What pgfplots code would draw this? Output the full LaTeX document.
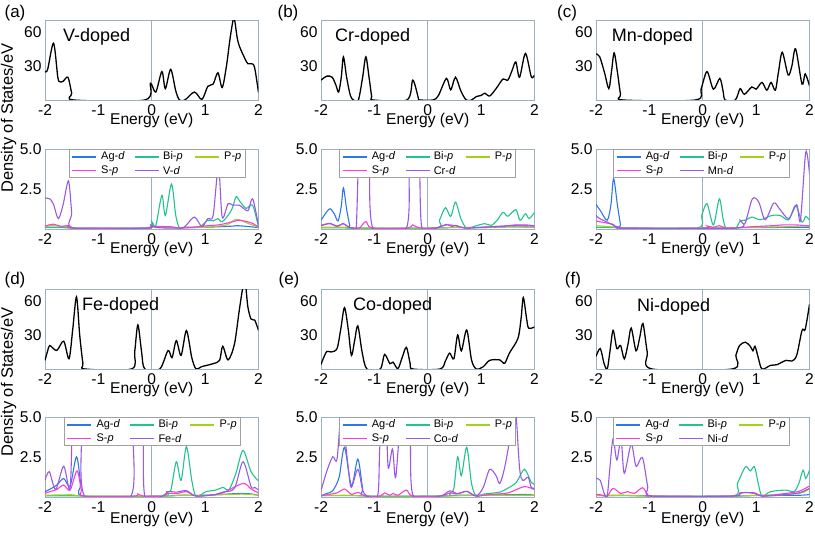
\documentclass[border=0pt]{standalone}
\usepackage{pgfplots}
\pgfplotsset{compat=1.18}
\usepackage{fontspec}
\setmainfont{Liberation Sans}
\definecolor{framec}{RGB}{155,178,190}
\definecolor{legc}{RGB}{160,160,160}
\definecolor{agc}{RGB}{45,120,230}
\definecolor{bic}{RGB}{35,195,140}
\definecolor{pc}{RGB}{160,210,30}
\definecolor{sc}{RGB}{250,60,220}
\definecolor{dc}{RGB}{150,90,230}
\newcommand\tickfont{\fontsize{15.6}{18}\selectfont}
\newcommand\legfont{\fontsize{11}{12}\selectfont}
\newcommand\titlefont{\fontsize{18}{20}\selectfont}
\newcommand\panelfont{\fontsize{17}{19}\selectfont}
\pgfplotsset{
  base/.style={scale only axis, width=213.5pt, height=79.5pt, anchor=south west,
    xmin=-2, xmax=2, xtick={-2,-1,0,1,2}, xticklabels={-2,-1,0,1,2},
    axis line style={draw=framec, line width=0.8pt},
    tick style={draw=none},
    ticklabel style={font=\tickfont},
    xticklabel style={yshift=-1.5pt},
  },
  topax/.style={base, ymin=0, ymax=70, ytick={30,60}, yticklabels={30,60}},
  botax/.style={base, ymin=-0.06, ymax=5, ytick={2.5,5}, yticklabels={2.5,5.0}},
  tot/.style={black, line width=1.3pt, smooth, tension=0.5},
  ag/.style={agc, line width=1.1pt, smooth, tension=0.5},
  bi/.style={bic, line width=1.1pt, smooth, tension=0.5},
  pp/.style={pc, line width=1.1pt, smooth, tension=0.5},
  sp/.style={sc, line width=1.1pt, smooth, tension=0.5},
  dd/.style={dc, line width=1.1pt, smooth, tension=0.5},
  zl/.style={framec, line width=0.8pt},
}
% legend box drawn on top of a lower panel: #1 = left x, #2 = top y, #3 = dopant
\newcommand\mylegend[3]{%
  \begin{scope}[shift={(#1,#2)}]
  \draw[legc, fill=white, line width=0.6pt] (0,0) rectangle (176,-28);
  \draw[agc, line width=1.1pt] (3,-7.5) -- (27,-7.5);
  \node[anchor=west, inner sep=0pt, font=\legfont] at (32,-7.5) {Ag-\textit{d}};
  \draw[bic, line width=1.1pt] (66,-7.5) -- (90,-7.5);
  \node[anchor=west, inner sep=0pt, font=\legfont] at (94,-7.5) {Bi-\textit{p}};
  \draw[pc, line width=1.1pt] (126,-7.5) -- (150,-7.5);
  \node[anchor=west, inner sep=0pt, font=\legfont] at (155,-7.5) {P-\textit{p}};
  \draw[sc, line width=1.1pt] (3,-21) -- (27,-21);
  \node[anchor=west, inner sep=0pt, font=\legfont] at (32,-21) {S-\textit{p}};
  \draw[dc, line width=1.1pt] (66,-21) -- (90,-21);
  \node[anchor=west, inner sep=0pt, font=\legfont] at (94,-21) {#3-\textit{d}};
  \end{scope}}
\begin{document}
\begin{tikzpicture}[x=1pt,y=1pt]
%================ (a) =================
\begin{axis}[topax, at={(45pt,436pt)}]
\addplot[zl] coordinates {(0,-10)(0,100)};
\addplot[tot] coordinates {(-2,25)(-1.95,27)(-1.84,50)(-1.76,20)(-1.72,16)(-1.66,16.5)(-1.57,20)(-1.5,6)(-1.46,0)(-0.13,0)(-0.025,14.7)(0.075,7)(0.19,25)(0.255,10)(0.355,27)(0.45,8)(0.52,0)(0.62,0)(0.80,7)(0.94,0.5)(1.05,12)(1.15,14)(1.24,24)(1.32,11)(1.40,30)(1.47,55)(1.54,72)(1.60,55)(1.645,47)(1.75,36)(1.80,32)(1.86,32)(1.925,29)(2,6.5)};
\end{axis}
\begin{axis}[botax, at={(45pt,307pt)}]
\addplot[zl] coordinates {(0,-10)(0,100)};
\addplot[ag] coordinates {(-2,0.05)(-1.5,0.03)(-1.45,0)(-0.1,0)(0,0.05)(0.5,0.03)(1,0.05)(1.5,0.12)(1.6,0.15)(1.8,0.1)(2,0.03)};
\addplot[bi] coordinates {(-2,0.05)(-1.5,0.02)(-1.45,0)(-0.1,0)(0,0.4)(0.075,0.15)(0.19,2.08)(0.255,0.8)(0.37,2.8)(0.45,0.8)(0.52,0)(0.6,0.05)(0.9,0.1)(1.05,0.5)(1.15,0.45)(1.24,0.6)(1.32,0.4)(1.45,0.9)(1.52,1.35)(1.58,2.0)(1.65,1.7)(1.77,1.25)(1.89,1.45)(2,0.05)};
\addplot[pp] coordinates {(-2,0.1)(-1.85,0.15)(-1.5,0.05)(-1.45,0)(-0.1,0)(0,0.05)(0.5,0.02)(1,0.05)(1.4,0.2)(1.58,0.55)(1.8,0.3)(2,0.05)};
\addplot[sp] coordinates {(-2,0.13)(-1.84,0.25)(-1.7,0.1)(-1.56,0.17)(-1.46,0)(-0.1,0)(0,0.1)(0.36,0.08)(0.52,0)(0.8,0.05)(1.05,0.15)(1.25,0.2)(1.52,0.4)(1.65,0.5)(1.89,0.3)(2,0.05)};
\addplot[dd] coordinates {(-2,1.9)(-1.91,1.86)(-1.84,1.5)(-1.75,0.6)(-1.66,1.5)(-1.56,3.0)(-1.5,1.0)(-1.46,0)(-0.1,0)(-0.02,0.2)(0.1,0.03)(0.55,0)(0.65,0.2)(0.8,0.7)(0.94,0.1)(1.05,0.6)(1.15,0.8)(1.25,3.9)(1.32,0.7)(1.43,1.55)(1.52,1.45)(1.645,1.45)(1.80,1.1)(1.89,1.86)(2,0.17)};
\end{axis}
%================ (b) =================
\begin{axis}[topax, at={(321pt,436pt)}]
\addplot[zl] coordinates {(0,-10)(0,100)};
\addplot[tot] coordinates {(-2,17.5)(-1.89,21)(-1.79,20)(-1.72,13)(-1.67,7)(-1.62,20)(-1.58,38)(-1.52,20)(-1.45,4)(-1.39,0)(-1.30,0)(-1.22,20)(-1.16,38)(-1.10,20)(-1.05,3)(-1.02,0)(-0.39,0)(-0.28,17.5)(-0.17,0.5)(-0.16,0)(0.1,0)(0.2,4)(0.35,19)(0.43,9)(0.52,20)(0.62,8)(0.72,0)(0.82,0)(0.91,3)(1.0,4)(1.07,6)(1.16,3.5)(1.28,10)(1.41,18.5)(1.50,17.5)(1.58,26)(1.65,33.5)(1.72,20)(1.83,41)(1.94,20.5)(2,22)};
\end{axis}
\begin{axis}[botax, at={(321pt,307pt)}]
\addplot[zl] coordinates {(0,-10)(0,100)};
\addplot[ag] coordinates {(-2,0.5)(-1.9,1.0)(-1.83,1.23)(-1.75,0.9)(-1.68,0.45)(-1.62,1.4)(-1.58,2.56)(-1.52,1.2)(-1.46,0.15)(-1.42,0)(0,0)(0.5,0.03)(1,0.03)(1.6,0.08)(2,0.05)};
\addplot[bi] coordinates {(-2,0.02)(-1.5,0.02)(-1.42,0)(0.13,0)(0.22,0.5)(0.33,1.3)(0.43,0.74)(0.52,1.65)(0.62,0.6)(0.72,0)(0.82,0.05)(0.91,0.15)(1.07,0.28)(1.19,0.17)(1.3,0.5)(1.41,1.0)(1.50,0.75)(1.65,1.17)(1.73,0.49)(1.83,0.91)(1.9,0.6)(2,1.0)};
\addplot[pp] coordinates {(-2,0.05)(-1.5,0.05)(-1.42,0)(0.1,0)(0.5,0.05)(1,0.03)(1.5,0.08)(2,0.05)};
\addplot[sp] coordinates {(-2,0.15)(-1.83,0.28)(-1.7,0.1)(-1.58,0.28)(-1.48,0.05)(-1.40,0)(-1.28,0)(-1.16,0.42)(-1.04,0)(-0.39,0)(-0.28,0.2)(-0.16,0)(0.15,0)(0.35,0.2)(0.52,0.15)(0.7,0)(1.0,0.05)(1.4,0.12)(1.65,0.17)(1.83,0.15)(2,0.12)};
\addplot[dd] coordinates {(-2,0.17)(-1.83,0.3)(-1.7,0.12)(-1.58,0.28)(-1.48,0.05)(-1.40,0)(-1.34,0)(-1.28,6)(-1.16,12)(-1.09,6)(-1.03,0)(-0.40,0)(-0.35,5)(-0.26,9)(-0.16,5)(-0.11,0)(0.15,0)(0.35,0.23)(0.45,0.1)(0.52,0.17)(0.7,0)(1.0,0.05)(1.4,0.12)(1.65,0.2)(1.83,0.2)(2,0.15)};
\end{axis}
%================ (c) =================
\begin{axis}[topax, at={(596pt,436pt)}]
\addplot[zl] coordinates {(0,-10)(0,100)};
\addplot[tot] coordinates {(-2,40.6)(-1.93,38)(-1.84,24)(-1.76,10)(-1.71,25)(-1.66,41.5)(-1.60,25)(-1.54,5)(-1.49,0)(-0.14,0)(-0.03,10)(0.08,25)(0.20,9.5)(0.32,19)(0.38,8)(0.42,0)(0.61,0)(0.70,10)(0.78,5)(0.92,11.5)(1.0,9.5)(1.11,15.5)(1.2,8.6)(1.28,15.5)(1.36,8.6)(1.42,25)(1.49,42)(1.6,22)(1.67,30)(1.74,45)(1.86,14)(1.92,23)(2,12.5)};
\end{axis}
\begin{axis}[botax, at={(596pt,307pt)}]
\addplot[zl] coordinates {(0,-10)(0,100)};
\addplot[ag] coordinates {(-2,1.5)(-1.92,1.12)(-1.79,0.5)(-1.72,1.5)(-1.67,3.14)(-1.60,1.5)(-1.54,0.2)(-1.51,0)(0,0)(0.5,0.02)(1,0.03)(2,0.05)};
\addplot[bi] coordinates {(-2,0.05)(-1.5,0.02)(-1.45,0)(-0.11,0)(-0.02,0.8)(0.08,1.55)(0.2,0.2)(0.31,1.86)(0.38,0.6)(0.44,0)(0.62,0)(0.70,0.45)(0.8,0.5)(0.92,0.7)(1.08,0.53)(1.29,0.8)(1.45,0.8)(1.61,0.53)(1.74,1.44)(1.86,0.38)(1.93,0.74)(2,0.5)};
\addplot[pp] coordinates {(-2,0.15)(-1.8,0.1)(-1.5,0.03)(-1.45,0)(0,0)(0.5,0.03)(1,0.05)(1.5,0.08)(2,0.15)};
\addplot[sp] coordinates {(-2,0.45)(-1.8,0.32)(-1.67,0.23)(-1.5,0)(0,0)(0.08,0.13)(0.2,0.05)(0.31,0.15)(0.44,0)(0.62,0)(0.9,0.08)(1.3,0.15)(1.5,0.2)(1.76,0.2)(2,0.12)};
\addplot[dd] coordinates {(-2,0.8)(-1.93,0.6)(-1.79,0.38)(-1.67,0.17)(-1.55,0.02)(-1.5,0)(0.62,0)(0.70,0.5)(0.79,0.28)(0.93,1.86)(1.05,1.65)(1.17,0.53)(1.33,1.59)(1.45,1.17)(1.61,0.6)(1.76,1.48)(1.83,0.49)(1.93,4.83)(2,3.45)};
\end{axis}
%================ (d) =================
\begin{axis}[topax, at={(45pt,167pt)}]
\addplot[zl] coordinates {(0,-10)(0,100)};
\addplot[tot] coordinates {(-2,7.6)(-1.95,16)(-1.91,20.7)(-1.78,16.3)(-1.65,24.5)(-1.55,9)(-1.48,35)(-1.41,63.5)(-1.35,30)(-1.29,5)(-1.25,0)(-0.38,0)(-0.32,15)(-0.26,38.8)(-0.19,15)(-0.13,0)(0.15,0)(0.305,16.3)(0.38,10)(0.46,25)(0.55,12)(0.65,33.8)(0.75,10)(0.83,0)(0.93,2)(1.15,4.7)(1.27,7.6)(1.33,20)(1.43,8)(1.55,22)(1.65,55)(1.74,78)(1.8,55)(1.86,44)(1.93,43)(2,34)};
\end{axis}
\begin{axis}[botax, at={(45pt,39pt)}]
\addplot[zl] coordinates {(0,-10)(0,100)};
\addplot[ag] coordinates {(-2,0.28)(-1.9,0.45)(-1.78,0.7)(-1.65,1.12)(-1.53,0.64)(-1.41,2.5)(-1.33,0.8)(-1.27,0)(0.2,0)(0.5,0.05)(1,0.05)(1.71,0.17)(2,0.05)};
\addplot[bi] coordinates {(-2,0.02)(-1.3,0.02)(-1.27,0)(0.2,0)(0.28,0.28)(0.36,0.4)(0.46,2.18)(0.55,1.0)(0.65,3.14)(0.75,1.0)(0.83,0)(1.02,0.28)(1.2,0.38)(1.33,0.55)(1.45,0.42)(1.58,1.48)(1.71,2.9)(1.86,1.55)(2,0.97)};
\addplot[pp] coordinates {(-2,0.05)(-1.5,0.08)(-1.27,0)(0.2,0)(0.6,0.05)(1,0.05)(1.7,0.12)(2,0.05)};
\addplot[sp] coordinates {(-2,0.17)(-1.91,0.28)(-1.78,0.42)(-1.65,0.7)(-1.53,0.38)(-1.40,1.6)(-1.32,0.4)(-1.27,0)(-0.34,0)(-0.26,0.13)(-0.16,0)(0.2,0)(0.30,0.17)(0.46,0.15)(0.65,0.28)(0.83,0)(1.2,0.1)(1.33,0.2)(1.71,0.8)(1.86,0.45)(2,0.2)};
\addplot[dd] coordinates {(-2,1.0)(-1.92,1.55)(-1.8,0.42)(-1.65,1.9)(-1.53,0.49)(-1.48,5.5)(-1.40,9)(-1.31,5)(-1.26,0)(-0.39,0)(-0.36,5)(-0.26,9)(-0.16,5)(-0.13,0)(0.2,0)(0.30,0.28)(0.46,0.25)(0.65,0.34)(0.83,0)(1.2,0.1)(1.33,0.25)(1.55,0.5)(1.71,2.18)(1.86,0.6)(1.93,0.55)(2,0.38)};
\end{axis}
%================ (e) =================
\begin{axis}[topax, at={(321pt,167pt)}]
\addplot[zl] coordinates {(0,-10)(0,100)};
\addplot[tot] coordinates {(-2,4)(-1.95,10)(-1.89,15.5)(-1.81,15)(-1.70,18)(-1.63,35)(-1.56,54)(-1.49,35)(-1.43,12)(-1.37,25)(-1.31,38)(-1.23,15)(-1.14,0)(-0.89,0)(-0.81,12.8)(-0.71,4.7)(-0.65,6)(-0.56,0.3)(-0.48,10)(-0.40,19)(-0.33,5)(-0.28,0)(0.23,0)(0.33,7)(0.41,14)(0.49,9)(0.56,30)(0.63,16)(0.73,34.4)(0.82,8)(0.91,0)(1.04,2)(1.16,7.6)(1.35,8)(1.44,5)(1.53,14)(1.69,27)(1.75,45)(1.79,63)(1.85,45)(1.89,36)(2,37)};
\end{axis}
\begin{axis}[botax, at={(321pt,39pt)}]
\addplot[zl] coordinates {(0,-10)(0,100)};
\addplot[ag] coordinates {(-2,0.02)(-1.89,0.17)(-1.78,0.34)(-1.66,1.2)(-1.56,3.1)(-1.43,0.65)(-1.31,2.35)(-1.22,0.5)(-1.15,0)(0.2,0)(0.5,0.05)(1,0.05)(1.8,0.1)(2,0.05)};
\addplot[bi] coordinates {(-2,0.03)(-1.15,0.02)(-1.1,0)(0.3,0)(0.41,0.17)(0.49,0.5)(0.56,2.5)(0.63,1.3)(0.73,3.1)(0.82,0.8)(0.91,0)(1.04,0.12)(1.35,0.25)(1.5,0.5)(1.66,0.87)(1.81,1.7)(1.94,0.87)(2,0.76)};
\addplot[pp] coordinates {(-2,0.03)(-1.5,0.05)(-1.1,0)(0.3,0)(0.7,0.03)(1.5,0.05)(2,0.05)};
\addplot[sp] coordinates {(-2,0.02)(-1.7,0.2)(-1.56,0.45)(-1.43,0.1)(-1.31,0.23)(-1.15,0)(-0.89,0)(-0.81,0.2)(-0.71,0.05)(-0.65,0.17)(-0.56,0.05)(-0.40,0.38)(-0.28,0)(0.23,0)(0.41,0.2)(0.56,0.15)(0.73,0.3)(0.91,0)(1.16,0.1)(1.5,0.2)(1.81,0.6)(2,0.4)};
\addplot[dd] coordinates {(-2,0.34)(-1.89,1.6)(-1.78,2.5)(-1.70,2.35)(-1.62,5.5)(-1.56,4)(-1.48,1.5)(-1.43,0.55)(-1.31,1.7)(-1.22,0.4)(-1.14,0)(-0.94,0)(-0.90,3)(-0.84,6)(-0.78,5)(-0.74,1.8)(-0.66,3.0)(-0.60,1.2)(-0.50,5.5)(-0.42,7)(-0.33,4)(-0.27,0)(0.23,0)(0.41,0.33)(0.56,0.15)(0.73,0.3)(0.91,0)(1.04,0.55)(1.16,1.7)(1.28,1.3)(1.35,0.8)(1.44,1.8)(1.53,3.5)(1.63,6)(1.72,1.8)(1.78,1.0)(1.88,1.2)(1.94,0.55)(2,0.5)};
\end{axis}
%================ (f) =================
\begin{axis}[topax, at={(596pt,167pt)}]
\addplot[zl] coordinates {(0,-10)(0,100)};
\addplot[tot] coordinates {(-2,11)(-1.92,18)(-1.85,5)(-1.79,0)(-1.74,15)(-1.68,34)(-1.61,18)(-1.54,20.7)(-1.47,9)(-1.40,22)(-1.34,36)(-1.25,16)(-1.18,28)(-1.12,40)(-1.04,15)(-0.95,0)(0.55,0)(0.62,12)(0.69,20.7)(0.80,23.6)(0.89,20)(0.94,16)(0.98,20)(1.04,10)(1.11,0)(1.27,3.2)(1.39,3.8)(1.56,7.6)(1.67,7)(1.76,12)(1.86,34)(1.92,35)(2,57)};
\end{axis}
\begin{axis}[botax, at={(596pt,39pt)}]
\addplot[zl] coordinates {(0,-10)(0,100)};
\addplot[ag] coordinates {(-2,0.03)(-1.5,0.03)(-1,0.02)(-0.95,0)(0.55,0)(1,0.03)(1.8,0.05)(2,0.1)};
\addplot[bi] coordinates {(-2,0.05)(-1.8,0.02)(-1.5,0.05)(-0.95,0)(0.55,0)(0.65,0.8)(0.80,1.86)(0.89,1.6)(0.97,1.86)(1.04,0.8)(1.11,0)(1.27,0.28)(1.56,0.38)(1.71,0.28)(1.80,0.8)(1.88,1.65)(1.93,1.12)(2,1.65)};
\addplot[pp] coordinates {(-2,0.05)(-1.5,0.05)(-0.95,0)(0.55,0)(1,0.05)(1.6,0.1)(1.9,0.25)(2,0.5)};
\addplot[sp] coordinates {(-2,0.1)(-1.92,0.08)(-1.79,0)(-1.68,0.49)(-1.54,0.17)(-1.41,0.28)(-1.28,0.17)(-1.13,0.53)(-1.03,0.1)(-0.95,0)(0.55,0)(0.69,0.2)(0.85,0.22)(0.98,0.2)(1.11,0)(1.4,0.1)(1.8,0.3)(2,0.65)};
\addplot[dd] coordinates {(-2,1.12)(-1.92,1.0)(-1.85,0.2)(-1.79,0)(-1.74,1.8)(-1.68,3.66)(-1.61,2.3)(-1.53,3.6)(-1.47,1.45)(-1.34,3.3)(-1.25,1.9)(-1.13,2.45)(-1.03,0.6)(-0.95,0)(0.55,0)(0.69,0.15)(0.80,0.23)(0.98,0.15)(1.11,0)(1.4,0.05)(1.8,0.2)(2,0.5)};
\end{axis}
%================ legends =================
\mylegend{69}{386.5}{V}
\mylegend{339.6}{386.5}{Cr}
\mylegend{613.7}{386.5}{Mn}
\mylegend{64.3}{118.5}{Fe}
\mylegend{339.6}{118.5}{Co}
\mylegend{613.3}{118.5}{Ni}
%================ texts =================
\foreach \xc in {151.75,427.75,702.75}{
  \foreach \yb in {411.5,282.5,142.5,12.5}{
    \node[font=\tickfont, inner sep=0pt, anchor=base] at (\xc,\yb) {Energy (eV)};
  }
}
\node[font=\panelfont, inner sep=0pt] at (15,523) {(a)};
\node[font=\panelfont, inner sep=0pt] at (288,523) {(b)};
\node[font=\panelfont, inner sep=0pt] at (567,523) {(c)};
\node[font=\panelfont, inner sep=0pt] at (15,256) {(d)};
\node[font=\panelfont, inner sep=0pt] at (289,256) {(e)};
\node[font=\panelfont, inner sep=0pt] at (573,256) {(f)};
\node[font=\titlefont, inner sep=0pt, anchor=west] at (63,499.5) {V-doped};
\node[font=\titlefont, inner sep=0pt, anchor=west] at (335,499.3) {Cr-doped};
\node[font=\titlefont, inner sep=0pt, anchor=west] at (611.7,499.3) {Mn-doped};
\node[font=\titlefont, inner sep=0pt, anchor=west] at (82,230.5) {Fe-doped};
\node[font=\titlefont, inner sep=0pt, anchor=west] at (353,230) {Co-doped};
\node[font=\titlefont, inner sep=0pt, anchor=west] at (637,229.5) {Ni-doped};
\node[font=\fontsize{16.5}{18}\selectfont, inner sep=0pt, rotate=90] at (8.5,418) {Density of States/eV};
\node[font=\fontsize{16.5}{18}\selectfont, inner sep=0pt, rotate=90] at (8.5,154) {Density of States/eV};
\pgfresetboundingbox
\path[use as bounding box] (0,0) rectangle (815,536);
\end{tikzpicture}
\end{document}
